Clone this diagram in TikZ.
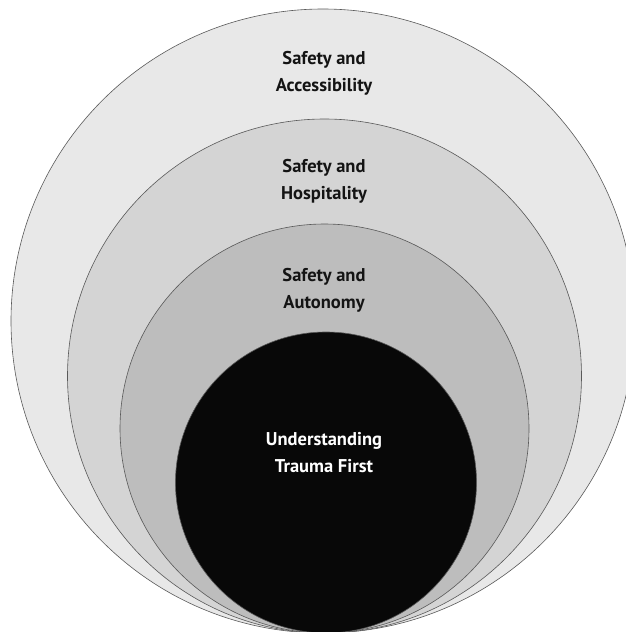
\documentclass[tikz,border=0pt]{standalone}
\usepackage{fontspec}
\setmainfont{PT Sans}
\usepackage{tikz}
\usetikzlibrary{positioning}

\begin{document}
\begin{tikzpicture}[x=1pt,y=-1pt,ringnode/.style={circle,draw=black!65,line width=0.6pt,inner sep=0pt,outer sep=0pt},labelnode/.style={align=center,font=\bfseries\fontsize{18.5}{27}\selectfont,text=black!92}]
	
	\useasboundingbox (0, 0) rectangle (626, 632);
	
	\node [ringnode, fill=black!9, minimum size=624pt] (0) at (323, 321) {};
	\node [ringnode, fill=black!17, minimum size=514pt] (1) at (324.5, 376) {};
	\node [ringnode, fill=black!26, minimum size=409pt] (2) at (324.5, 428.5) {};
	\node [ringnode, fill=black!97, minimum size=301pt] (3) at (326, 482.5) {};
	
	\node [labelnode] (0t) at (324, 73) {Safety and\\Accessibility};
	\node [labelnode] (1t) at (324, 181) {Safety and\\Hospitality};
	\node [labelnode] (2t) at (324, 290) {Safety and\\Autonomy};
	\node [labelnode, text=white] (3t) at (324, 453) {Understanding\\Trauma First};

\end{tikzpicture}
\end{document}
